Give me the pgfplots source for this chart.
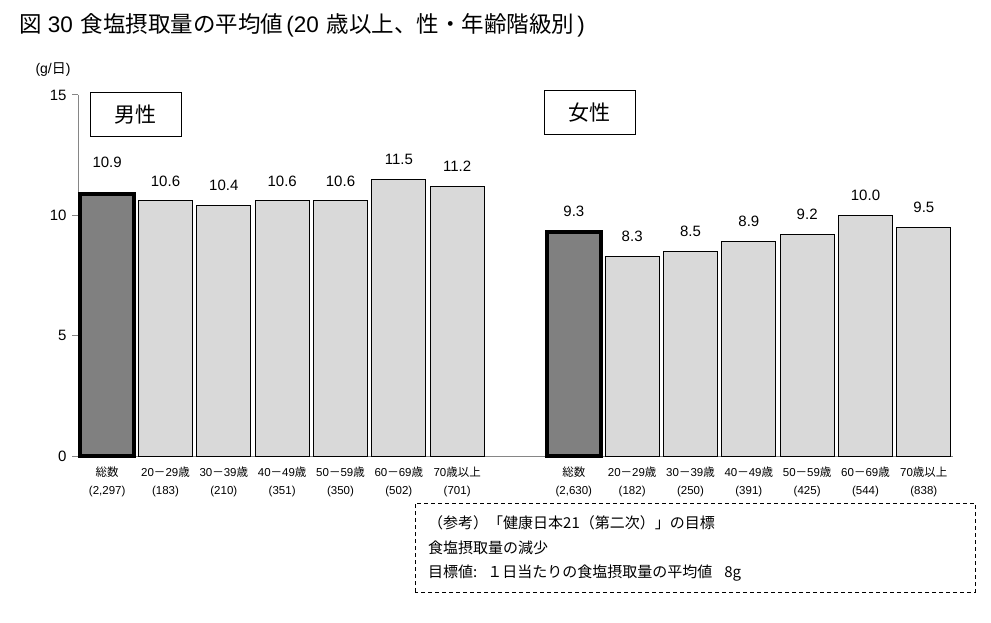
\documentclass[border=0pt]{standalone}
\usepackage{pgfplots}
\pgfplotsset{compat=1.18}
\usepackage{fontspec}
\setmainfont{Liberation Sans}
\newfontfamily\cjk{Noto Sans CJK JP}
\definecolor{darkbar}{HTML}{808080}
\definecolor{lightbar}{HTML}{D9D9D9}
\definecolor{axisgray}{HTML}{868686}
\begin{document}
\begin{tikzpicture}[x=1pt,y=1pt]
\path[use as bounding box] (0,0) rectangle (991,622);
\node[anchor=west, inner sep=0pt, font=\fontsize{22.5}{26}\selectfont] at (19,597) {{\cjk 図} 30\hspace{8pt}{\cjk 食塩摂取量の平均値}\hspace{3pt}(20\hspace{8pt}{\cjk 歳以上、性・年齢階級別}\hspace{3pt})};
\node[inner sep=0pt, font=\fontsize{14}{16}\selectfont] at (53,552) {(g/{\cjk 日})};
\begin{axis}[
  at={(78pt,166pt)}, anchor=south west,
  scale only axis, width=875pt, height=361pt,
  xmin=-0.5, xmax=14.5, ymin=0, ymax=15,
  axis x line*=bottom, axis y line*=left,
  axis line style={axisgray, line width=1pt},
  /pgf/number format/assume math mode=true,
  ytick={0,5,10,15},
  ytick style={axisgray, line width=1pt},
  tick align=outside,
  major tick length=6pt,
  yticklabel style={font=\fontsize{15}{18}\selectfont, xshift=-2pt},
  xtick={0,1,2,3,4,5,6,8,9,10,11,12,13,14},
  xtick style={draw=none},
  minor xtick={-0.5,0.5,1.5,2.5,3.5,4.5,5.5,6.5,7.5,8.5,9.5,10.5,11.5,12.5,13.5,14.5},
  minor tick style={axisgray, line width=1pt},
  minor tick length=6pt,
  xticklabel style={font=\fontsize{11.5}{18}\selectfont, align=center, yshift=-1pt},
  xticklabels={
    {{\cjk 総数}\\(2,297)},
    {20{\cjk －}29{\cjk 歳}\\(183)},
    {30{\cjk －}39{\cjk 歳}\\(210)},
    {40{\cjk －}49{\cjk 歳}\\(351)},
    {50{\cjk －}59{\cjk 歳}\\(350)},
    {60{\cjk －}69{\cjk 歳}\\(502)},
    {70{\cjk 歳以上}\\(701)},
    {{\cjk 総数}\\(2,630)},
    {20{\cjk －}29{\cjk 歳}\\(182)},
    {30{\cjk －}39{\cjk 歳}\\(250)},
    {40{\cjk －}49{\cjk 歳}\\(391)},
    {50{\cjk －}59{\cjk 歳}\\(425)},
    {60{\cjk －}69{\cjk 歳}\\(544)},
    {70{\cjk 歳以上}\\(838)}
  },
  ybar, bar width=54pt, bar shift=0pt,
  clip=false,
  nodes near coords={\pgfmathprintnumber[fixed,fixed zerofill,precision=1]{\pgfplotspointmeta}},
  every node near coord/.append style={font=\fontsize{15}{18}\selectfont, anchor=center, black},
]
\addplot[fill=darkbar, draw=black, line width=4pt,
  every node near coord/.append style={yshift=31pt, line width=0pt}]
  coordinates {(0,10.9)};
\addplot[fill=lightbar, draw=black, line width=1pt,
  every node near coord/.append style={yshift=20pt}]
  coordinates {(1,10.6) (2,10.4) (3,10.6) (4,10.6) (5,11.5) (6,11.2)};
\addplot[fill=darkbar, draw=black, line width=4pt,
  every node near coord/.append style={yshift=21pt}]
  coordinates {(8,9.3)};
\addplot[fill=lightbar, draw=black, line width=1pt,
  every node near coord/.append style={yshift=20pt}]
  coordinates {(9,8.3) (10,8.5) (11,8.9) (12,9.2) (13,10.0) (14,9.5)};
\end{axis}
\node[draw=black, line width=1pt, minimum width=91pt, minimum height=44pt, font=\fontsize{21}{24}\selectfont\cjk] at (135.5,507) {男性};
\node[draw=black, line width=1pt, minimum width=91pt, minimum height=44pt, font=\fontsize{21}{24}\selectfont\cjk] at (589.5,509.5) {女性};
\draw[line width=1pt, dash pattern=on 4pt off 3pt] (415,30) rectangle (975,119);
\node[anchor=west, inner sep=0pt, font=\fontsize{15}{18}\selectfont\cjk] at (428,99) {（参考）「健康日本21（第二次）」の目標};
\node[anchor=west, inner sep=0pt, font=\fontsize{15}{18}\selectfont\cjk] at (428,74) {食塩摂取量の減少};
\node[anchor=west, inner sep=0pt, font=\fontsize{15}{18}\selectfont\cjk] at (428,49) {目標値:\hspace{10pt}１日当たりの食塩摂取量の平均値\hspace{12pt}8g};
\end{tikzpicture}
\end{document}
